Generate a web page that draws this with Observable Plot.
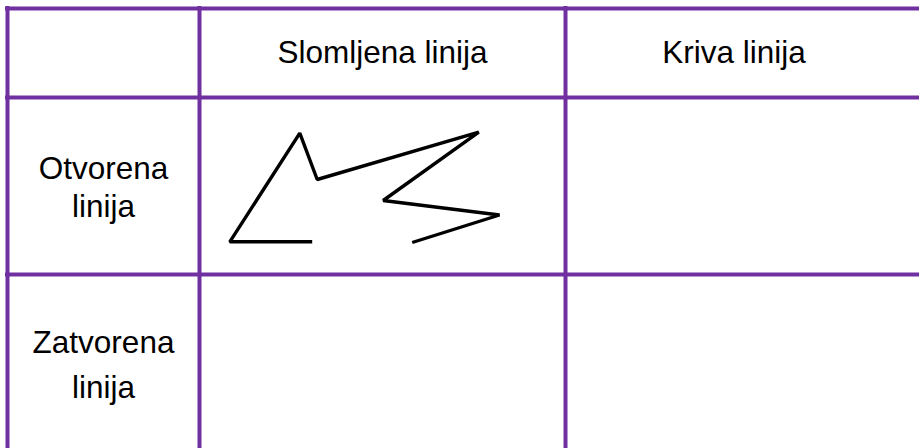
<!DOCTYPE html>
<html>
<head>
<meta charset="utf-8">
<script src="https://cdn.jsdelivr.net/npm/d3@7"></script>
<script src="https://cdn.jsdelivr.net/npm/@observablehq/plot@0.6"></script>
<style>
  html, body { margin: 0; padding: 0; background: #fff; }
  #chart svg { display: block; }
</style>
</head>
<body>
<div id="chart"></div>
<script>
// Table structure (in picture units)
const colEdges = [7, 199, 565];          // drawn vertical grid lines
const rowEdges = [8, 97, 274];           // drawn horizontal grid lines
const tableRight = 902;                  // right edge of last column (outside view)
const tableBottom = 448;

// Header texts
const columnHeaders = ["Slomljena linija", "Kriva linija"];
const rowHeaders = ["Otvorena\nlinija", "Zatvorena\nlinija"];
const rowLineHeights = [1.21, 1.42];

// Open broken line drawn in the first cell
const brokenX = [311.7, 229.3, 299.3, 316.7, 478.3, 382.7, 499, 411.7];
const brokenY = [241.3, 241.3, 132.7, 179, 131.7, 200, 214.5, 242];

const purple = "#7030a0";
const font = "'Liberation Sans', Arial, sans-serif";
const fs = 31.5;

const colBounds = [colEdges[1], colEdges[2], tableRight];
const rowBounds = [rowEdges[1], rowEdges[2], tableBottom];

const headerData = columnHeaders.map((t, i) => ({
  text: t,
  x: (colBounds[i] + colBounds[i + 1]) / 2,
  y: (rowEdges[0] + rowEdges[1]) / 2
}));
const rowData = rowHeaders.map((t, i) => ({
  text: t,
  x: (colEdges[0] + colEdges[1]) / 2,
  y: (rowBounds[i] + rowBounds[i + 1]) / 2,
  lh: rowLineHeights[i]
}));
const polyline = brokenX.map((x, i) => ({x, y: brokenY[i]}));

const chart = Plot.plot({
  width: 919,
  height: 448,
  margin: 0,
  style: {background: "#fff", fontFamily: font},
  x: {domain: [0, 919], range: [0, 919], axis: null},
  y: {domain: [0, 448], range: [0, 448], axis: null},
  marks: [
    Plot.ruleX(colEdges, {x: d => d, y1: rowEdges[0] - 2, y2: tableBottom, stroke: purple, strokeWidth: 4}),
    Plot.ruleY(rowEdges, {y: d => d, x1: colEdges[0] - 2, x2: 919, stroke: purple, strokeWidth: 4}),
    Plot.line(polyline, {x: "x", y: "y", stroke: "#000", strokeWidth: 3.4, strokeLinejoin: "miter", strokeLinecap: "butt", curve: "linear"}),
    Plot.text(headerData, {x: "x", y: "y", text: "text", fontSize: fs, fill: "#000", fontFamily: font}),
    ...rowData.map(d => Plot.text([d], {x: "x", y: "y", text: "text", fontSize: fs, fill: "#000", fontFamily: font, lineHeight: d.lh}))
  ]
});
document.getElementById("chart").appendChild(chart);
</script>
</body>
</html>
